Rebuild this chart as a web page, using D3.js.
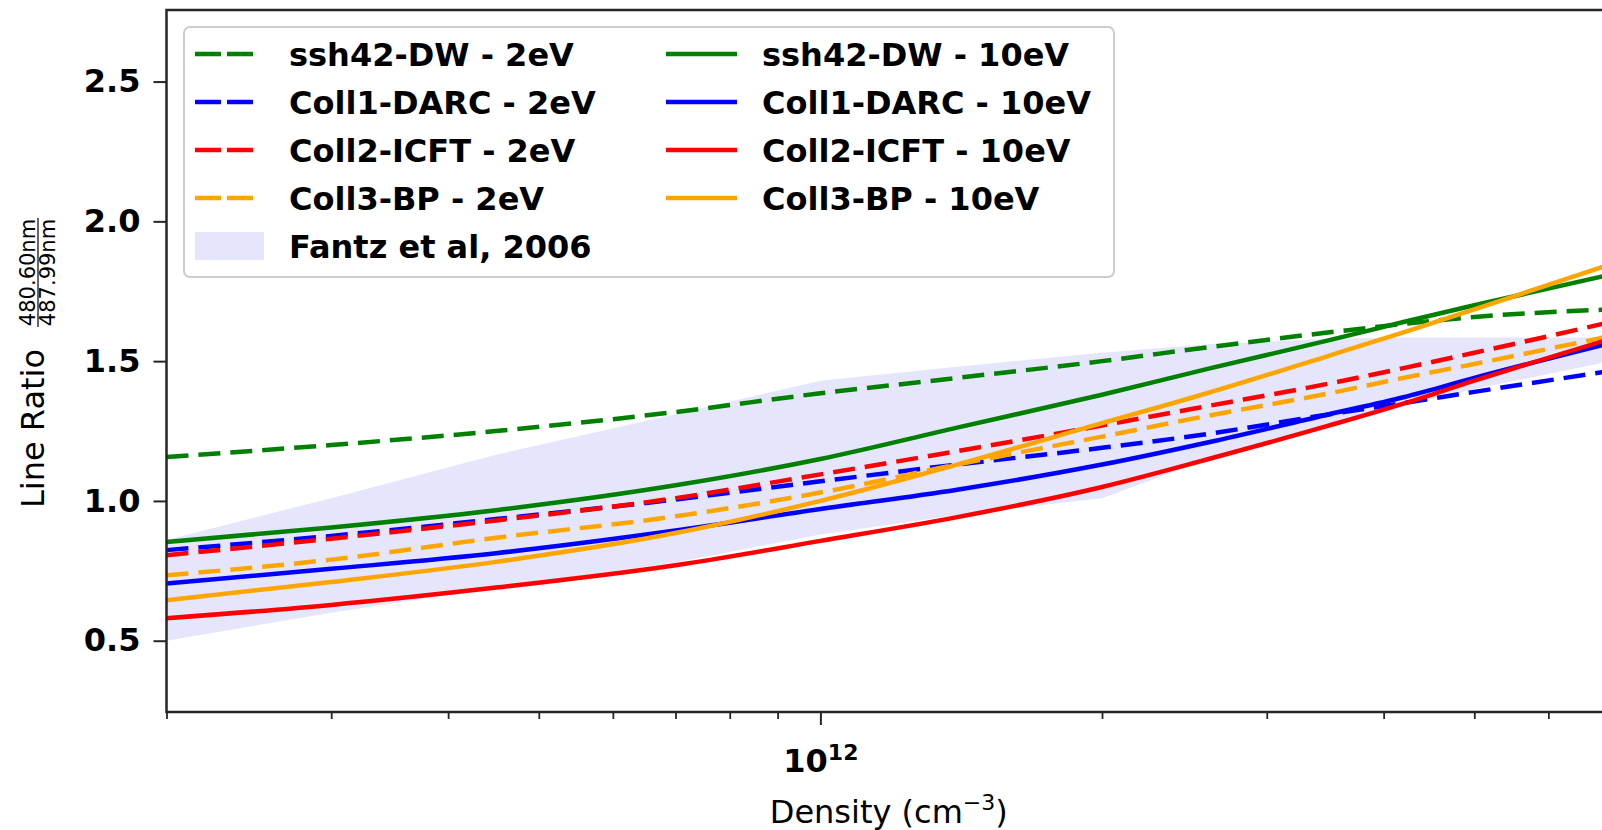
<!DOCTYPE html>
<html>
<head>
<meta charset="utf-8">
<script src="https://cdn.jsdelivr.net/npm/d3@7"></script>
<style>
  body { margin: 0; background: #fff; }
  svg { display: block; font-family: "DejaVu Sans", sans-serif; }
  svg text { font-family: "DejaVu Sans", sans-serif; }
</style>
</head>
<body>
<script>
var w = 1602;
var h = 830;

// plot frame (the right part of the axes runs past the picture)
var plotLeft = 166.5, plotRight = 1611, plotTop = 10, plotBottom = 712;

// densities (cm^-3) where the curves were read
var densities = [2e11, 3e11, 4.5e11, 7e11, 1e12, 1.4e12, 2e12, 2.6e12, 3.5e12, 4.2e12, 5e12, 7e12];

// line ratio values, 2eV (dashed)
var ssh42_2eV  = [1.157, 1.20, 1.25, 1.318, 1.385, 1.44, 1.50, 1.55, 1.603, 1.633, 1.658, 1.685];
var coll1_2eV  = [0.824, 0.875, 0.935, 1.005, 1.07, 1.13, 1.19, 1.24, 1.31, 1.35, 1.39, 1.465];
var coll2_2eV  = [0.806, 0.865, 0.93, 1.01, 1.095, 1.178, 1.27, 1.34, 1.42, 1.475, 1.53, 1.64];
var coll3_2eV  = [0.734, 0.79, 0.868, 0.945, 1.03, 1.13, 1.23, 1.305, 1.385, 1.44, 1.49, 1.59];

// line ratio values, 10eV (solid)
var ssh42_10eV = [0.853, 0.905, 0.967, 1.056, 1.15, 1.262, 1.38, 1.473, 1.575, 1.64, 1.70, 1.81];
var coll1_10eV = [0.705, 0.757, 0.813, 0.894, 0.971, 1.04, 1.13, 1.21, 1.31, 1.371, 1.44, 1.565];
var coll2_10eV = [0.58, 0.628, 0.69, 0.77, 0.857, 0.942, 1.05, 1.15, 1.27, 1.348, 1.43, 1.58];
var coll3_10eV = [0.645, 0.71, 0.782, 0.885, 1.0, 1.13, 1.278, 1.387, 1.52, 1.603, 1.685, 1.847];

// Fantz et al, 2006 band
var fantzLow  = [0.50, 0.60, 0.69, 0.78, 0.88, 0.95, 1.01, 1.15, 1.27, 1.34, 1.40, 1.50];
var fantzHigh = [0.86, 1.01, 1.165, 1.31, 1.43, 1.48, 1.53, 1.56, 1.58, 1.585, 1.585, 1.585];

var yTicks = [0.5, 1.0, 1.5, 2.0, 2.5];
var xMinorTicks = [2e11, 3e11, 4e11, 5e11, 6e11, 7e11, 8e11, 9e11, 2e12, 3e12, 4e12, 5e12, 6e12, 7e12];
var xMajorTicks = [1e12];

var series = [
  {label: "ssh42-DW - 2eV",    values: ssh42_2eV,  color: "green",  dashed: true},
  {label: "Coll1-DARC - 2eV",  values: coll1_2eV,  color: "blue",   dashed: true},
  {label: "Coll2-ICFT - 2eV",  values: coll2_2eV,  color: "red",    dashed: true},
  {label: "Coll3-BP - 2eV",    values: coll3_2eV,  color: "orange", dashed: true},
  {label: "ssh42-DW - 10eV",   values: ssh42_10eV, color: "green",  dashed: false},
  {label: "Coll1-DARC - 10eV", values: coll1_10eV, color: "blue",   dashed: false},
  {label: "Coll2-ICFT - 10eV", values: coll2_10eV, color: "red",    dashed: false},
  {label: "Coll3-BP - 10eV",   values: coll3_10eV, color: "orange", dashed: false}
];

var axisColor = "#262626";
var bandColor = "#e5e5fc";
var font = "DejaVu Sans";

//Create scale functions
var xScale = d3.scaleLog()
               .domain([2e11, 7e12])
               .range([plotLeft, plotRight]);

var yScale = d3.scaleLinear()
               .domain([0.245, 2.756])
               .range([plotBottom, plotTop]);

//Create SVG element
var svg = d3.select("body")
            .append("svg")
            .attr("width", w)
            .attr("height", h);

svg.append("clipPath")
   .attr("id", "plotclip")
   .append("rect")
   .attr("x", plotLeft)
   .attr("y", plotTop)
   .attr("width", plotRight - plotLeft)
   .attr("height", plotBottom - plotTop);

var plot = svg.append("g").attr("clip-path", "url(#plotclip)");

// band
var area = d3.area()
             .x(function(d, i) { return xScale(densities[i]); })
             .y0(function(d, i) { return yScale(fantzLow[i]); })
             .y1(function(d, i) { return yScale(fantzHigh[i]); });

plot.append("path")
    .datum(densities)
    .attr("d", area)
    .attr("fill", bandColor);

// lines
var line = d3.line()
             .x(function(d, i) { return xScale(densities[i]); })
             .y(function(d) { return yScale(d); })
             .curve(d3.curveMonotoneX);

plot.selectAll("path.series")
    .data(series)
    .enter()
    .append("path")
    .attr("class", "series")
    .attr("d", function(d) { return line(d.values); })
    .attr("fill", "none")
    .attr("stroke", function(d) { return d.color; })
    .attr("stroke-width", 4.5)
    .attr("stroke-dasharray", function(d) { return d.dashed ? "22,10" : null; });

// spines
svg.append("rect")
   .attr("x", plotLeft)
   .attr("y", plotTop)
   .attr("width", plotRight - plotLeft)
   .attr("height", plotBottom - plotTop)
   .attr("fill", "none")
   .attr("stroke", axisColor)
   .attr("stroke-width", 2.5);

//Define Y axis
var yAxis = d3.axisLeft(yScale)
              .tickValues(yTicks)
              .tickFormat(d3.format(".1f"))
              .tickSize(13)
              .tickPadding(13);

var gy = svg.append("g")
            .attr("transform", "translate(" + plotLeft + ",0)")
            .call(yAxis)
            .attr("font-family", font)
            .attr("font-size", 32);
gy.select(".domain").remove();
gy.selectAll("line").attr("stroke", axisColor).attr("stroke-width", 2);
gy.selectAll("text")
  .attr("fill", "#000")
  .style("font-weight", "bold");

//Define X axis (minor ticks)
var xMinor = d3.axisBottom(xScale)
               .tickValues(xMinorTicks)
               .tickFormat("")
               .tickSize(7);

var gxm = svg.append("g")
             .attr("transform", "translate(0," + plotBottom + ")")
             .call(xMinor);
gxm.select(".domain").remove();
gxm.selectAll("line").attr("stroke", axisColor).attr("stroke-width", 1.8);

//X axis (major tick)
var xMajor = d3.axisBottom(xScale)
               .tickValues(xMajorTicks)
               .tickFormat("")
               .tickSize(13)
               .tickPadding(24);

var gx = svg.append("g")
            .attr("transform", "translate(0," + plotBottom + ")")
            .call(xMajor)
            .attr("font-family", font)
            .attr("font-size", 32);
gx.select(".domain").remove();
gx.selectAll("line").attr("stroke", axisColor).attr("stroke-width", 2);

gx.selectAll("text")
  .attr("fill", "#000")
  .attr("dy", "0.71em")
  .style("font-weight", "bold")
  .each(function(d) {
    var t = d3.select(this);
    var exp = Math.round(Math.log10(d));
    t.append("tspan").text("10");
    t.append("tspan").attr("font-size", 22).attr("dy", "-12").text(exp);
  });

// x label
var xl = svg.append("text")
            .attr("x", (plotLeft + plotRight) / 2)
            .attr("y", 823)
            .attr("text-anchor", "middle")
            .attr("font-family", font)
            .attr("font-size", 32)
            .attr("fill", "#000");
xl.append("tspan").text("Density (cm");
xl.append("tspan").attr("dy", -13).attr("font-size", 22).text("\u22123");
xl.append("tspan").attr("dy", 13).text(")");

// y label
var yl = svg.append("g")
            .attr("transform", "translate(44,508) rotate(-90)")
            .attr("font-family", font);
yl.append("text")
  .attr("x", 0)
  .attr("y", 0)
  .attr("font-size", 32)
  .attr("fill", "#000")
  .text("Line Ratio");
yl.append("text")
  .attr("x", 235.5)
  .attr("y", -9)
  .attr("text-anchor", "middle")
  .attr("font-size", 21)
  .attr("fill", "#000")
  .text("480.60nm");
yl.append("line")
  .attr("x1", 181)
  .attr("x2", 290)
  .attr("y1", -6)
  .attr("y2", -6)
  .attr("stroke", "#000")
  .attr("stroke-width", 1.2);
yl.append("text")
  .attr("x", 235.5)
  .attr("y", 11)
  .attr("text-anchor", "middle")
  .attr("font-size", 21)
  .attr("fill", "#000")
  .text("487.99nm");

// legend
var legend = svg.append("g").attr("font-family", font);
legend.append("rect")
      .attr("x", 184)
      .attr("y", 27)
      .attr("width", 930)
      .attr("height", 250)
      .attr("rx", 6)
      .attr("fill", "#fff")
      .attr("fill-opacity", 0.85)
      .attr("stroke", "#cccccc")
      .attr("stroke-width", 2);

var legendItems = series.slice(0, 4)
  .concat([{label: "Fantz et al, 2006", band: true}])
  .concat(series.slice(4));

var rowH = 48, row0 = 54;
var colX = [195, 666];
var textX = [289, 762];

var items = legend.selectAll("g.item")
  .data(legendItems)
  .enter()
  .append("g")
  .attr("class", "item")
  .attr("transform", function(d, i) {
    var row = i < 5 ? i : i - 5;
    return "translate(0," + (row0 + row * rowH) + ")";
  });

items.each(function(d, i) {
  var g = d3.select(this);
  var col = i < 5 ? 0 : 1;
  if (d.band) {
    g.append("rect")
     .attr("x", colX[col])
     .attr("y", -14)
     .attr("width", 69)
     .attr("height", 28)
     .attr("fill", bandColor);
  } else if (d.dashed) {
    g.append("line")
     .attr("x1", colX[col]).attr("x2", colX[col] + 58)
     .attr("y1", 0).attr("y2", 0)
     .attr("stroke", d.color)
     .attr("stroke-width", 4.5)
     .attr("stroke-dasharray", "26,6");
  } else {
    g.append("line")
     .attr("x1", colX[col]).attr("x2", colX[col] + 71)
     .attr("y1", 0).attr("y2", 0)
     .attr("stroke", d.color)
     .attr("stroke-width", 4.5);
  }
  g.append("text")
   .attr("x", textX[col])
   .attr("y", 11.5)
   .attr("font-size", 32)
   .style("font-weight", "bold")
   .attr("fill", "#000")
   .text(d.label);
});
</script>
</body>
</html>
